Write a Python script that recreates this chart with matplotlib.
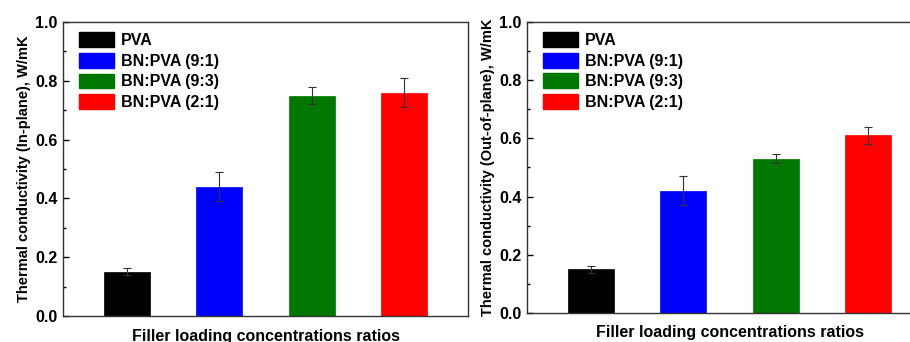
import matplotlib.pyplot as plt
import matplotlib.patches as mpatches
from matplotlib.ticker import MultipleLocator

plt.rcParams['font.family'] = ['Liberation Sans', 'DejaVu Sans']
plt.rcParams['font.weight'] = 'bold'

# 样品名称和颜色
labels = ['PVA', 'BN:PVA (9:1)', 'BN:PVA (9:3)', 'BN:PVA (2:1)']
colors = ['#000000', '#0000ff', '#007700', '#ff0000']

# 面内热导率
in_plane = [0.15, 0.44, 0.75, 0.76]
in_plane_err = [0.012, 0.05, 0.03, 0.05]

# 面外热导率
out_plane = [0.15, 0.42, 0.53, 0.61]
out_plane_err = [0.012, 0.05, 0.015, 0.03]

x = [1, 2, 3, 4]

fig = plt.figure(figsize=(9.1, 3.42), dpi=100)
W, H = 910, 342
ax1 = fig.add_axes([63 / W, 1 - 316 / H, (468 - 63) / W, (316 - 22) / H])
ax2 = fig.add_axes([527 / W, 1 - 313 / H, 405 / W, (313 - 22) / H])


def draw(ax, vals, errs, ylabel):
    ax.bar(x, vals, width=0.5, color=colors, edgecolor=colors, linewidth=0.5,
           yerr=errs, error_kw=dict(ecolor='#333333', elinewidth=0.8, capsize=3, capthick=0.8))
    ax.set_xlim(0.3, 4.7)
    ax.set_ylim(0, 1.0)
    ax.yaxis.set_minor_locator(MultipleLocator(0.1))
    ax.set_yticks([0.0, 0.2, 0.4, 0.6, 0.8, 1.0])
    ax.set_yticklabels(['0.0', '0.2', '0.4', '0.6', '0.8', '1.0'], fontsize=11.5, fontweight='bold')
    ax.tick_params(axis='y', which='major', direction='in', length=4, width=1, pad=4)
    ax.tick_params(axis='y', which='minor', direction='in', length=2, width=1)
    ax.set_xticks([])
    for s in ax.spines.values():
        s.set_linewidth(1.0)
        s.set_color('#333333')
    ax.set_ylabel(ylabel, fontsize=10.5, fontweight='bold', labelpad=3)
    ax.set_xlabel('Filler loading concentrations ratios', fontsize=11.5, fontweight='bold', labelpad=9)
    handles = [mpatches.Patch(color=colors[i], label=labels[i]) for i in range(4)]
    ax.legend(handles=handles, loc='upper left', frameon=False,
              prop={'weight': 'bold', 'size': 11.5}, handlelength=2.2, handleheight=1.05,
              labelspacing=0.3, handletextpad=0.4, borderaxespad=0.0, borderpad=0.0,
              bbox_to_anchor=(0.04, 0.965))


draw(ax1, in_plane, in_plane_err, 'Thermal conductivity (In-plane), W/mK')
draw(ax2, out_plane, out_plane_err, 'Thermal conductivity (Out-of-plane), W/mK')

fig.savefig('out.png', dpi=100)
